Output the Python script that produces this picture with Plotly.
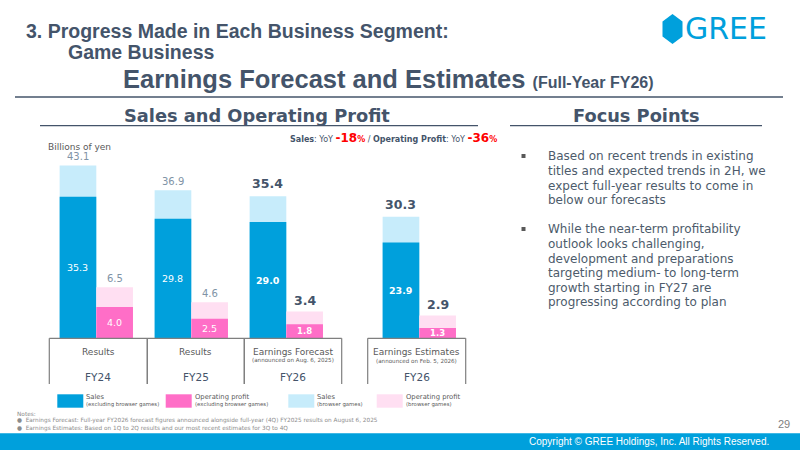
import plotly.graph_objects as go

# ---------------- data ----------------
fiscal_years = ["FY24", "FY25", "FY26", "FY26"]
period_labels = ["Results", "Results", "Earnings Forecast", "Earnings Estimates"]
period_notes = ["", "", "(announced on Aug. 6, 2025)", "(announced on Feb. 5, 2026)"]
sales_total = [43.1, 36.9, 35.4, 30.3]        # incl. browser games
sales_excl = [35.3, 29.8, 29.0, 23.9]         # excluding browser games
op_total = [6.5, 4.6, 3.4, 2.9]
op_excl = [4.0, 2.5, 1.8, 1.3]
yoy_sales = "-18"
yoy_op = "-36"
focus_points = [
    ["Based on recent trends in existing", "titles and expected trends in 2H, we",
     "expect full-year results to come in", "below our forecasts"],
    ["While the near-term profitability", "outlook looks challenging,",
     "development and preparations", "targeting medium- to long-term",
     "growth starting in FY27 are", "progressing according to plan"],
]
notes = ["Earnings Forecast: Full-year FY2026 forecast figures announced alongside full-year (4Q) FY2025 results on August 6, 2025",
         "Earnings Estimates: Based on 1Q to 2Q results and our most recent estimates for 3Q to 4Q"]

# ---------------- style / layout ----------------
W, H = 800, 450
def px(x): return x / W
def py(y): return 1 - y / H

NAVY = "#44546A"
GRAY = "#8093A6"
DARK_BLUE = "#00A0DC"
LIGHT_BLUE = "#C7ECFB"
PINK = "#FF6EC7"
LIGHT_PINK = "#FFDFF2"
VERD = "DejaVu Sans, Verdana, sans-serif"
ARIAL = "Liberation Sans, Arial, sans-serif"
COND = "Liberation Sans Narrow, Arial Narrow, Liberation Sans, sans-serif"

group_pos = [0, 1, 2, 3.4]          # x positions of each bar pair
bw = 0.386                          # bar width
emph = [False, False, True, True]   # bold labels for forecast/estimate
box_edges = [(49.3, 147.3), (147.3, 244.3), (244.3, 341.7), (367.7, 465.7)]

fig = go.Figure()
fig.add_trace(go.Bar(x=group_pos, y=sales_total, offset=-bw, width=bw, marker_color=LIGHT_BLUE,
                     marker_line_width=0, opacity=1, yaxis="y", hoverinfo="skip", showlegend=False))
fig.add_trace(go.Bar(x=group_pos, y=sales_excl, offset=-bw, width=bw, marker_color=DARK_BLUE,
                     marker_line_width=0, opacity=1, yaxis="y", hoverinfo="skip", showlegend=False))
fig.add_trace(go.Bar(x=group_pos, y=op_total, offset=0, width=bw, marker_color=LIGHT_PINK,
                     marker_line_width=0, opacity=1, yaxis="y2", hoverinfo="skip", showlegend=False))
fig.add_trace(go.Bar(x=group_pos, y=op_excl, offset=0, width=bw, marker_color=PINK,
                     marker_line_width=0, opacity=1, yaxis="y2", hoverinfo="skip", showlegend=False))

ann = []
shapes = []

def text(x, y, t, size, color, family=VERD, xanchor="center", yanchor="middle", xref="paper", yref="paper", yshift=0):
    ann.append(dict(x=x, y=y, xref=xref, yref=yref, text=t, showarrow=False, xanchor=xanchor, yanchor=yanchor,
                    yshift=yshift, font=dict(family=family, size=size, color=color)))

# bar labels
for i, p in enumerate(group_pos):
    xs, xo = p - bw / 2, p + bw / 2
    if emph[i]:
        text(xs, sales_total[i], f"<b>{sales_total[i]:.1f}</b>", 12.5, NAVY, xref="x", yref="y", yanchor="bottom", yshift=3)
        text(xo, op_total[i], f"<b>{op_total[i]:.1f}</b>", 12.5, NAVY, xref="x", yref="y2", yanchor="bottom", yshift=1.5)
        text(xs, sales_excl[i] / 2, f"<b>{sales_excl[i]:.1f}</b>", 9.5, "white", xref="x", yref="y")
        text(xo, op_excl[i] / 2, f"<b>{op_excl[i]:.1f}</b>", 8.5, "white", xref="x", yref="y2")
    else:
        text(xs, sales_total[i], f"{sales_total[i]:.1f}", 10, GRAY, xref="x", yref="y", yanchor="bottom", yshift=1.5)
        text(xo, op_total[i], f"{op_total[i]:.1f}", 10, GRAY, xref="x", yref="y2", yanchor="bottom", yshift=1.5)
        text(xs, sales_excl[i] / 2, f"{sales_excl[i]:.1f}", 9.5, "white", xref="x", yref="y")
        text(xo, op_excl[i] / 2, f"{op_excl[i]:.1f}", 9.5, "white", xref="x", yref="y2")

# category boxes and labels
line_c = "#7F7F7F"
for (x0, x1), lab, note, fy in zip(box_edges, period_labels, period_notes, fiscal_years):
    shapes.append(dict(type="line", xref="paper", yref="paper", x0=px(x0), x1=px(x1), y0=py(338.3), y1=py(338.3),
                       line=dict(color=line_c, width=1.2)))
    for xx in (x0, x1):
        shapes.append(dict(type="line", xref="paper", yref="paper", x0=px(xx), x1=px(xx), y0=py(338.3), y1=py(384),
                           line=dict(color=line_c, width=1.2)))
    c = (x0 + x1) / 2
    text(px(c), py(351.5), lab, 9, "#595959")
    if note:
        text(px(c), py(360.5), note, 5.6, "#595959")
    text(px(c), py(377), fy, 10.5, NAVY)

# legend (custom)
legend_items = [("Sales", "(excluding browser games)", DARK_BLUE, 57.3),
                ("Operating profit", "(excluding browser games)", PINK, 165.7),
                ("Sales", "(browser games)", LIGHT_BLUE, 288.3),
                ("Operating profit", "(browser games)", LIGHT_PINK, 376.7)]
for t1, t2, col, x0 in legend_items:
    shapes.append(dict(type="rect", xref="paper", yref="paper", x0=px(x0), x1=px(x0 + 26), y0=py(407.7), y1=py(394.3),
                       fillcolor=col, line=dict(width=0)))
    text(px(x0 + 27), py(397.3), t1, 6.8, "#595959", xanchor="left")
    text(px(x0 + 27), py(404.2), t2, 5.4, "#595959", xanchor="left")

# headers
text(px(24), py(30.5), "<b>3. Progress Made in Each Business Segment:</b>", 19.5, NAVY, family=ARIAL, xanchor="left")
text(px(66), py(52), "<b>Game Business</b>", 19.5, NAVY, family=ARIAL, xanchor="left")
text(px(121), py(79), "<b>Earnings Forecast and Estimates</b> <span style='font-size:16px'><b>(Full-Year FY26)</b></span>",
     25.5, NAVY, family=ARIAL, xanchor="left")
shapes.append(dict(type="line", xref="paper", yref="paper", x0=px(15), x1=px(783), y0=py(97), y1=py(97),
                   line=dict(color=NAVY, width=1.5)))

# logo
hexpath = "M {0},{1} L {2},{3} L {2},{4} L {0},{5} L {6},{4} L {6},{3} Z".format(
    px(672.5), py(14), px(682.5), py(21.5), py(36.5), py(44), px(662.5))
shapes.append(dict(type="path", xref="paper", yref="paper", path=hexpath, fillcolor=DARK_BLUE, line=dict(width=0)))
text(px(683), py(29), "GREE", 30, DARK_BLUE, family=VERD, xanchor="left")

# section headers
text(px(257), py(115.5), "<b>Sales and Operating Profit</b>", 17.8, NAVY)
shapes.append(dict(type="line", xref="paper", yref="paper", x0=px(40), x1=px(478), y0=py(125.7), y1=py(125.7),
                   line=dict(color=NAVY, width=1.3)))
text(px(636.5), py(115.5), "<b>Focus Points</b>", 17.8, NAVY)
shapes.append(dict(type="line", xref="paper", yref="paper", x0=px(510), x1=px(762), y0=py(125.7), y1=py(125.7),
                   line=dict(color=NAVY, width=1.3)))

# YoY line
RED = "#FF0000"
yoy_text = (f"<b>Sales</b>: YoY <span style='color:{RED};font-size:12px'><b>{yoy_sales}</b></span>"
            f"<span style='color:{RED}'><b>%</b></span> / <b>Operating Profit</b>: YoY "
            f"<span style='color:{RED};font-size:12px'><b>{yoy_op}</b></span><span style='color:{RED}'><b>%</b></span>")
text(px(499), py(138), yoy_text, 8, NAVY, xanchor="right")
text(px(46), py(147), "Billions of yen", 9, "#595959", xanchor="left")

# focus points
ys = [[156, 171, 185.5, 200], [229, 243.5, 258.5, 273, 287.5, 302]]
for lines, yy in zip(focus_points, ys):
    shapes.append(dict(type="rect", xref="paper", yref="paper", x0=px(521.5), x1=px(525.5), y0=py(yy[0] + 2),
                       y1=py(yy[0] - 2), fillcolor="#595959", line=dict(width=0)))
    for t, y in zip(lines, yy):
        text(px(546), py(y), t, 12, "#4D5B6B", xanchor="left")

# notes
text(px(15), py(414.3), "Notes:", 5.8, "#8C8C8C", xanchor="left")
for n, y in zip(notes, [420.8, 428]):
    text(px(15), py(y), "●  " + n, 5.75, "#8C8C8C", xanchor="left")
text(px(792), py(424), "29", 11, "#7F7F7F", family=COND, xanchor="right")

# footer
shapes.append(dict(type="rect", xref="paper", yref="paper", x0=0, x1=1, y0=0, y1=py(433.3),
                   fillcolor=DARK_BLUE, line=dict(width=0), layer="below"))
text(px(771), py(441.5), "Copyright © GREE Holdings, Inc. All Rights Reserved.", 10, "white", family=COND, xanchor="right")

# axes
x_lo, x_hi = (40 - 96.3) / 95, (500 - 96.3) / 95
y_bot, y_top = 338.3, 150
fig.update_layout(
    width=W, height=H, margin=dict(l=0, r=0, t=0, b=0),
    paper_bgcolor="white", plot_bgcolor="rgba(0,0,0,0)",
    barmode="overlay", showlegend=False,
    xaxis=dict(domain=[px(40), px(500)], range=[x_lo, x_hi], visible=False, fixedrange=True),
    yaxis=dict(domain=[py(y_bot), py(y_top)], range=[0, (y_bot - y_top) / 4.01], visible=False, fixedrange=True),
    yaxis2=dict(domain=[py(y_bot), py(y_top)], range=[0, (y_bot - y_top) / 7.85], visible=False,
                overlaying="y", fixedrange=True),
    annotations=ann, shapes=shapes,
)
fig.write_html("out.html")
